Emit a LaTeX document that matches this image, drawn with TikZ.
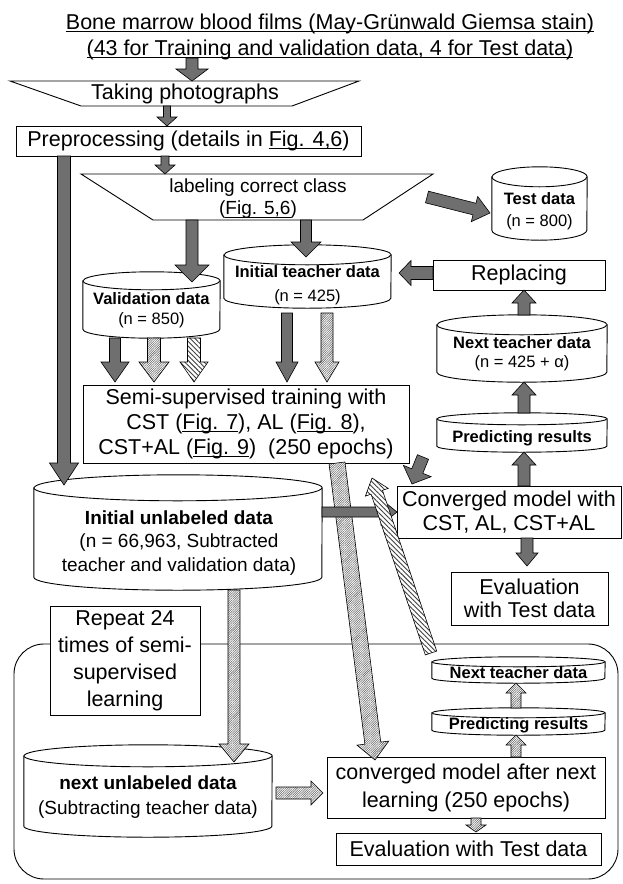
\documentclass[tikz,border=0pt]{standalone}
\usepackage{fontspec}
\setmainfont{Liberation Sans}
\usetikzlibrary{calc,patterns.meta}
\definecolor{arrgray}{HTML}{6F6F6F}

\newcommand\uln[1]{\setbox0\hbox{#1}\rlap{\rule[-2.6pt]{\wd0}{0.8pt}}\box0}

\newcommand\barrow[6]{%
  \coordinate (bah) at ($(#3)!#6pt!(#2)$);
  \path[#1] ($(#2)!#4pt!90:(#3)$) -- ($(bah)!#4pt!-90:(#2)$) -- ($(bah)!#5pt!-90:(#2)$) -- (#3)
     -- ($(bah)!#5pt!90:(#2)$) -- ($(bah)!#4pt!90:(#2)$) -- ($(#2)!#4pt!-90:(#3)$) -- cycle;}

\newcommand\cyl[6]{%
  \node[cylnode, minimum width=#4pt, minimum height=#5pt] (#1) at (#2,#3) {};
  \path[cylline] ($(#1.north west)+(0pt,-#6pt)$) -- ($(#1.south west)+(0pt,#6pt)$)
     arc[start angle=180, end angle=360, x radius=0.5*#4pt, y radius=#6pt]
     -- ($(#1.north east)+(0pt,-#6pt)$)
     arc[start angle=0, end angle=180, x radius=0.5*#4pt, y radius=#6pt] -- cycle;
  \draw[cylline] ($(#1.north west)+(0pt,-#6pt)$) arc[start angle=180, end angle=360, x radius=0.5*#4pt, y radius=#6pt];}

\tikzset{
  boxline/.style={draw=black, line width=0.9pt},
  sbox/.style={boxline, fill=white, inner sep=0pt},
  cylnode/.style={inner sep=0pt, draw=none},
  cylline/.style={draw=black, line width=0.9pt, fill=white},
  adark/.style={draw=black, line width=0.6pt, fill=arrgray},
  adense/.style={draw=black, line width=0.6pt, preaction={fill=white}, pattern={Lines[angle=45,distance=1.6pt,line width=0.55pt]}, pattern color=black!60},
  awide/.style={draw=black, line width=0.6pt, preaction={fill=white}, pattern={Lines[angle=-45,distance=3.4pt,line width=0.9pt]}, pattern color=black!75},
  fbig/.style={font=\fontsize{21.5}{24}\selectfont},
  fmid/.style={font=\fontsize{19}{23}\selectfont},
  fsmall/.style={font=\fontsize{16.5}{20}\selectfont},
}

\begin{document}
\begin{tikzpicture}[x=1pt,y=-1pt]
\useasboundingbox (0,0) rectangle (622,884);

% loop region
\node[boxline, rounded corners=30pt, minimum width=604pt, minimum height=235pt, inner sep=0pt] (loop) at (316,761.5) {};

% top text
\node[font=\fontsize{21.5}{26}\selectfont, align=center] (films) at (330,37) {\uln{Bone marrow blood films (May-Grünwald Giemsa stain)}\\\uln{(43 for Training and validation data, 4 for Test data)}};

% taking photographs
\path[boxline, fill=white] (10,81) -- (359,81) -- (292,106) -- (81,106) -- cycle;
\node[fbig] (photo) at (185,94) {Taking photographs};

% preprocessing
\node[sbox, fbig, minimum width=345pt, minimum height=30pt] (pre) at (188.5,141) {Preprocessing (details in \uln{Fig. 4,6})};

% labeling
\path[boxline, fill=white] (81,174) -- (433,174) -- (363,220) -- (153,220) -- cycle;
\node[align=center, font=\fontsize{19}{22}\selectfont] (label) at (258,199) {labeling correct class\\(\uln{Fig. 5,6})};

% cylinders
\cyl{test}{539.5}{203.5}{95}{73}{10}
\node[align=center, font=\fontsize{16.5}{22}\selectfont] (testt) at (539.5,211) {\textbf{Test data}\\(n = 800)};

\cyl{teach}{307.5}{276.5}{167}{63}{10}
\node[align=center, font=\fontsize{16.5}{24}\selectfont] (teacht) at (307.5,285) {\textbf{Initial teacher data}\\(n = 425)};

\node[sbox, fbig, minimum width=172pt, minimum height=30pt] (rep) at (519,275) {Replacing};

\cyl{val}{151.5}{305}{137}{66}{9}
\node[align=center, font=\fontsize{16.5}{20}\selectfont] (valt) at (151.5,310) {\textbf{Validation data}\\(n = 850)};

\cyl{nt}{522}{348.5}{170}{67}{10}
\node[align=center, font=\fontsize{16.5}{19}\selectfont] (ntt) at (522,354) {\textbf{Next teacher data}\\(n = 425 + α)};

\cyl{pr}{522}{432.5}{170}{39}{6}
\node[fsmall] (prt) at (522,438) {\textbf{Predicting results}};

% semi-supervised
\node[sbox, align=center, font=\fontsize{21.5}{25}\selectfont, minimum width=326pt, minimum height=78pt] (semi) at (246,424) {Semi-supervised training with\\CST (\uln{Fig. 7}), AL (\uln{Fig. 8}),\\CST+AL (\uln{Fig. 9})\ \ (250 epochs)};

\node[sbox, align=center, font=\fontsize{21.5}{24}\selectfont, minimum width=224pt, minimum height=52pt] (conv) at (509,512) {Converged model with\\CST, AL, CST+AL};

\node[sbox, align=center, font=\fontsize{21.5}{23}\selectfont, minimum width=157pt, minimum height=53pt] (eval1) at (529.5,598.5) {Evaluation\\with Test data};

\cyl{unl}{178}{532.5}{288}{115}{13}
\node[align=center, font=\fontsize{19}{23.5}\selectfont] (unlt) at (179,543) {\textbf{Initial unlabeled data}\\(n = 66,963, Subtracted\\teacher and validation data)};

% loop contents
\node[sbox, align=center, font=\fontsize{21.5}{27}\selectfont, minimum width=150pt, minimum height=109pt] (rep24) at (125,660.5) {Repeat 24\\times of semi-\\supervised\\learning};

\cyl{ntsm}{518.5}{670}{173}{26}{5}
\node[fsmall] (ntsmt) at (518.5,673) {\textbf{Next teacher data}};
\cyl{prsm}{518.5}{721.5}{173}{27}{5}
\node[fsmall] (prsmt) at (518.5,725) {\textbf{Predicting results}};

\cyl{nunl}{148}{791}{248}{92}{11}
\node[align=center, font=\fontsize{19}{25}\selectfont] (nunlt) at (148,797.5) {\textbf{next unlabeled data}\\(Subtracting teacher data)};

\node[sbox, align=center, font=\fontsize{21.5}{28}\selectfont, minimum width=278pt, minimum height=61pt] (conv2) at (466,787.5) {converged model after next\\learning (250 epochs)};

\node[sbox, fbig, minimum width=265pt, minimum height=32pt] (eval2) at (468.5,849) {Evaluation with Test data};

% arrow end points
\coordinate (a1s) at (192,58);   \coordinate (a1e) at (192,81);
\coordinate (a2s) at (167,106);  \coordinate (a2e) at (167,126);
\coordinate (a3s) at (165,156);  \coordinate (a3e) at (165,174);
\coordinate (a4s) at (64,156);   \coordinate (a4e) at (64,485);
\coordinate (a5s) at (427,197);  \coordinate (a5e) at (490,213);
\coordinate (a6s) at (192,220);  \coordinate (a6e) at (192,282);
\coordinate (a7s) at (306,220);  \coordinate (a7e) at (306,257);
\coordinate (a8s) at (433,273);  \coordinate (a8e) at (399,273);
\coordinate (a9s) at (524,315);  \coordinate (a9e) at (524,290);
\coordinate (a10s) at (524,413); \coordinate (a10e) at (524,382);
\coordinate (a11s) at (524,486); \coordinate (a11e) at (524,452);
\coordinate (a12s) at (527,538); \coordinate (a12e) at (527,566);
\coordinate (a13s) at (115,338); \coordinate (a13e) at (115,382);
\coordinate (a14s) at (287,313); \coordinate (a14e) at (287,382);
\coordinate (a15s) at (423,457); \coordinate (a15e) at (412,484);
\coordinate (a16s) at (322,512); \coordinate (a16e) at (397,512);
\coordinate (h17s) at (154,338); \coordinate (h17e) at (154,382);
\coordinate (h18s) at (194,338); \coordinate (h18e) at (194,382);
\coordinate (h19s) at (327,313); \coordinate (h19e) at (327,382);
\coordinate (h20s) at (337,463); \coordinate (h20e) at (375,760);
\coordinate (h21s) at (431,653); \coordinate (h21e) at (372,478);
\coordinate (h22s) at (234,590); \coordinate (h22e) at (234,762);
\coordinate (h23s) at (276,793); \coordinate (h23e) at (323,793);
\coordinate (h24s) at (516,757); \coordinate (h24e) at (516,735);
\coordinate (h25s) at (516,708); \coordinate (h25e) at (516,683);
\coordinate (h26s) at (476,818); \coordinate (h26e) at (476,832);

% solid arrows
\barrow{adark}{a1s}{a1e}{6}{16}{12}
\barrow{adark}{a2s}{a2e}{3.5}{10}{9}
\barrow{adark}{a3s}{a3e}{4}{10}{9}
\barrow{adark}{a4s}{a4e}{6.5}{14.5}{22}
\barrow{adark}{a5s}{a5e}{6}{13}{16}
\barrow{adark}{a6s}{a6e}{6}{17}{17}
\barrow{adark}{a7s}{a7e}{5.5}{15}{15}
\barrow{adark}{a8s}{a8e}{6.5}{12.5}{12}
\barrow{adark}{a9s}{a9e}{6}{12}{13}
\barrow{adark}{a10s}{a10e}{6}{12}{13}
\barrow{adark}{a11s}{a11e}{6}{12}{13}
\barrow{adark}{a12s}{a12e}{6}{11}{13}
\barrow{adark}{a13s}{a13e}{5.5}{14}{20}
\barrow{adark}{a14s}{a14e}{5.5}{11}{20}
\barrow{adark}{a15s}{a15e}{6}{15}{14}

% hatched arrows
\barrow{adense}{h17s}{h17e}{6.5}{15}{20}
\barrow{awide}{h18s}{h18e}{6.5}{14}{20}
\barrow{adense}{h19s}{h19e}{6}{12}{20}
\barrow{adense}{h20s}{h20e}{8}{16}{17}
\barrow{adark}{a16s}{a16e}{5}{13}{16}
\barrow{awide}{h21s}{h21e}{6}{12}{15}
\barrow{adense}{h22s}{h22e}{6}{15}{18}
\barrow{adense}{h23s}{h23e}{6}{12}{12}
\barrow{adense}{h24s}{h24e}{5}{10}{10}
\barrow{adense}{h25s}{h25e}{5}{10}{10}
\barrow{adense}{h26s}{h26e}{5}{10}{7}
\end{tikzpicture}
\end{document}
